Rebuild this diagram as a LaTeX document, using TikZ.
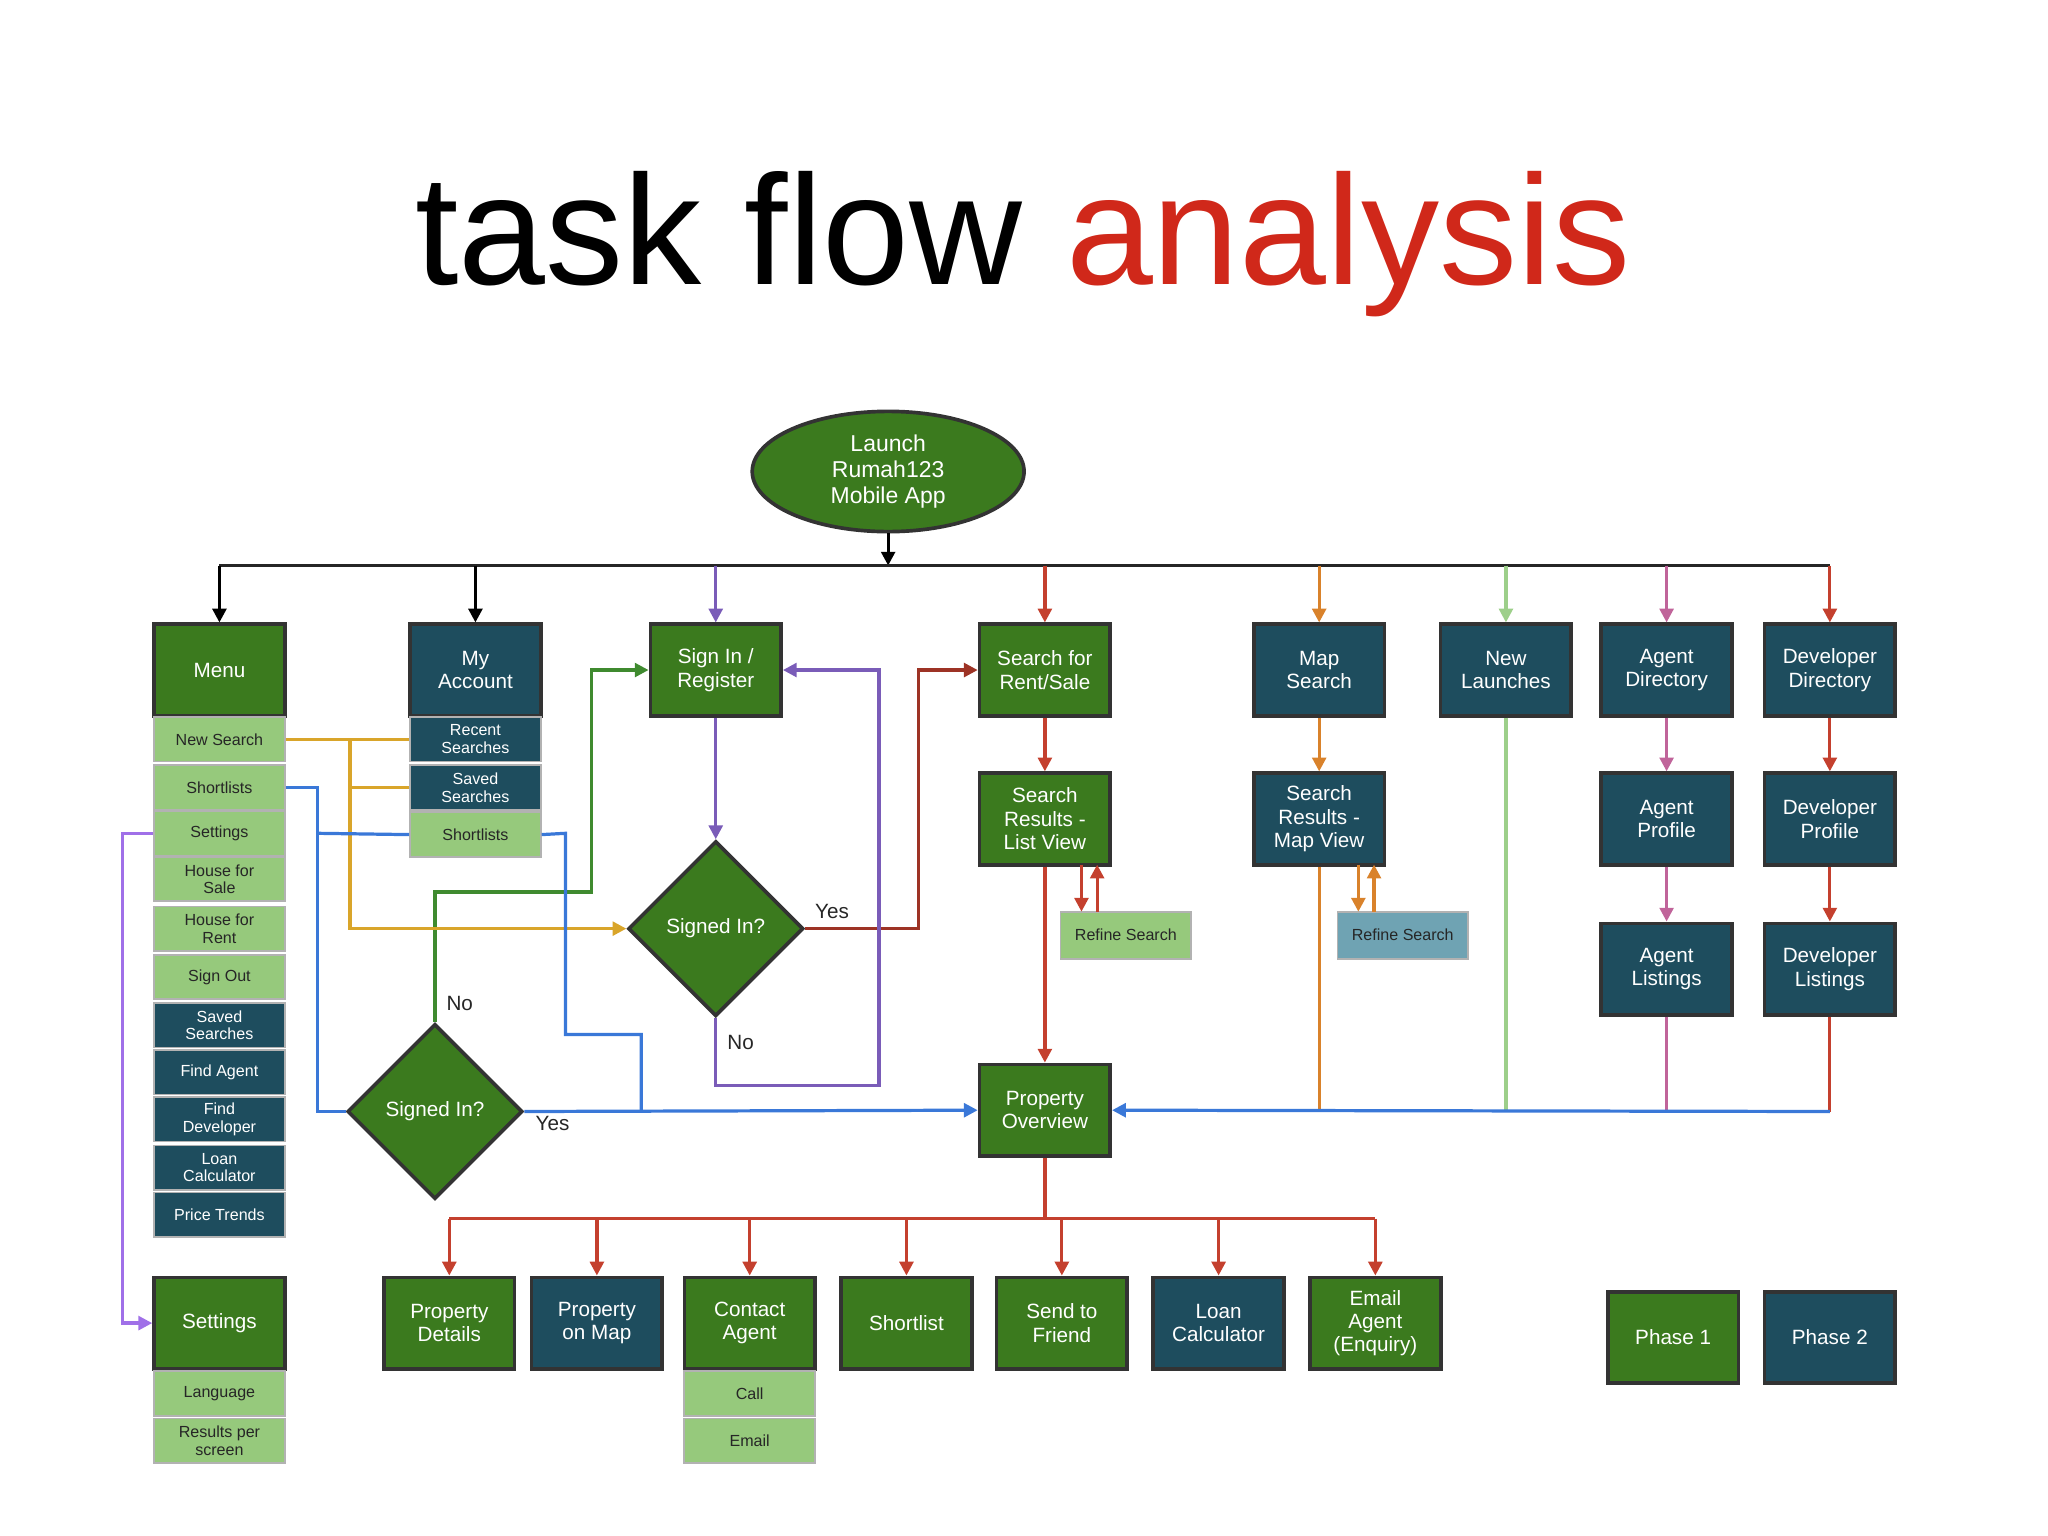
\documentclass[tikz,border=0pt]{standalone}
\usepackage{fontspec}
\setmainfont{Liberation Sans}
\usetikzlibrary{shapes.geometric,arrows.meta}
\definecolor{dg}{HTML}{3B7A1E}
\definecolor{dt}{HTML}{1E4D5E}
\definecolor{lg}{HTML}{96C97C}
\definecolor{lt}{HTML}{6FA3B3}
\definecolor{cpur}{HTML}{7A5CB8}
\definecolor{cred}{HTML}{C4402E}
\definecolor{cor}{HTML}{D9822B}
\definecolor{clg}{HTML}{9DCF8A}
\definecolor{cpk}{HTML}{C0649A}
\definecolor{cgold}{HTML}{D9A52A}
\definecolor{cblue}{HTML}{3A78D8}
\definecolor{cgr}{HTML}{3F8A2F}
\definecolor{cvio}{HTML}{A070E8}
\definecolor{tred}{HTML}{D0281A}
\begin{document}
\begin{tikzpicture}[x=0.01cm,y=-0.01cm,
  box/.style={draw=black!80,line width=0.8pt,minimum width=1cm,minimum height=0.7cm,align=center,text=white,font=\fontsize{4.5}{5.1}\selectfont,inner sep=0pt},
  G/.style={box,fill=dg}, T/.style={box,fill=dt},
  sub/.style={draw=black!30,line width=0.4pt,minimum width=1cm,minimum height=0.34cm,align=center,font=\fontsize{3.5}{3.8}\selectfont,inner sep=0pt},
  SL/.style={sub,fill=lg,text=black!85}, ST/.style={sub,fill=dt,text=white},
  dia/.style={diamond,draw=black!80,line width=0.8pt,fill=dg,text=white,minimum width=1.34cm,minimum height=1.34cm,aspect=1,inner sep=0pt,font=\fontsize{4.5}{5.1}\selectfont},
  ln/.style={line width=0.7pt},
  ar/.style={ln,-{Triangle[length=3pt,width=3pt]}},
  lab/.style={font=\fontsize{4.5}{5.1}\selectfont,text=black!85}]
\useasboundingbox (0,0) rectangle (1568,1176);
\node (title) at (783,187) {\fontsize{34}{38}\selectfont task flow \textcolor{tred}{analysis}};
\node[ellipse,draw=black!80,line width=0.8pt,fill=dg,text=white,minimum width=2.08cm,minimum height=0.92cm,align=center,inner sep=0pt,font=\fontsize{5}{5.6}\selectfont] (launch) at (680,361) {Launch\\Rumah123\\Mobile App};
% top row
\node[G] (menu) at (168,513) {Menu};
\node[T] (acc) at (364,513) {My\\Account};
\node[G] (sign) at (548,513) {Sign In /\\Register};
\node[G] (search) at (800,513) {Search for\\Rent/Sale};
\node[T] (map) at (1010,513) {Map\\Search};
\node[T] (newl) at (1153,513) {New\\Launches};
\node[T] (agdir) at (1276,513) {Agent\\Directory};
\node[T] (devdir) at (1401,513) {Developer\\Directory};
% menu subs
\node[SL] (m1) at (168,566) {New Search};
\node[SL] (m2) at (168,603) {Shortlists};
\node[SL] (m3) at (168,638) {Settings};
\node[SL] (m4) at (168,673) {House for\\Sale};
\node[SL] (m5) at (168,711) {House for\\Rent};
\node[SL] (m6) at (168,748) {Sign Out};
\node[ST] (m7) at (168,785) {Saved\\Searches};
\node[ST] (m8) at (168,821) {Find Agent};
\node[ST] (m9) at (168,857) {Find\\Developer};
\node[ST] (m10) at (168,894) {Loan\\Calculator};
\node[ST] (m11) at (168,930) {Price Trends};
% account subs
\node[ST] (a1) at (364,566) {Recent\\Searches};
\node[ST] (a2) at (364,603) {Saved\\Searches};
\node[SL] (a3) at (364,639) {Shortlists};
% second row
\node[G] (list) at (800,627) {Search\\Results -\\List View};
\node[T] (mapv) at (1010,627) {Search\\Results -\\Map View};
\node[T] (agp) at (1276,627) {Agent\\Profile};
\node[T] (devp) at (1401,627) {Developer\\Profile};
\node[T] (agl) at (1276,742) {Agent\\Listings};
\node[T] (devl) at (1401,742) {Developer\\Listings};
\node[SL,minimum height=0.36cm] (ref1) at (862,716) {Refine Search};
\node[sub,fill=lt,text=black!85,minimum height=0.36cm] (ref2) at (1074,716) {Refine Search};
\node[dia] (d1) at (548,711) {Signed In?};
\node[dia] (d2) at (333,851) {Signed In?};
\node[G] (po) at (800,850) {Property\\Overview};
% bottom row
\node[G] (pd) at (344,1013) {Property\\Details};
\node[T] (pm) at (457,1013) {Property\\on Map};
\node[G] (ca) at (574,1013) {Contact\\Agent};
\node[G] (sl) at (694,1013) {Shortlist};
\node[G] (sf) at (813,1013) {Send to\\Friend};
\node[T] (lc) at (933,1013) {Loan\\Calculator};
\node[G] (ea) at (1053,1013) {Email\\Agent\\(Enquiry)};
\node[SL] (c1) at (574,1067) {Call};
\node[SL] (c2) at (574,1103) {Email};
\node[G] (set) at (168,1013) {Settings};
\node[SL] (s1) at (168,1067) {Language};
\node[SL] (s2) at (168,1103) {Results per\\screen};
\node[G] (ph1) at (1281,1024) {Phase 1};
\node[T] (ph2) at (1401,1024) {Phase 2};
% bus
\coordinate (bL) at (168,433); \coordinate (bR) at (1401,433);
\draw[ar,black] (launch) -- (680,433);
\draw[ln,black!85] (bL) -- (bR);
\draw[ar,black] (bL) -- (menu);
\draw[ar,black] (364,433) -- (acc);
\draw[ar,cpur] (548,433) -- (sign);
\draw[ar,cred] (800,433) -- (search);
\draw[ar,cor] (1010,433) -- (map);
\draw[ar,clg] (1153,433) -- (newl);
\draw[ar,cpk] (1276,433) -- (agdir);
\draw[ar,cred] (1401,433) -- (devdir);
% verticals
\draw[ar,cred] (search) -- (list);
\draw[ar,cred] (list) -- (po);
\draw[ar,cor] (map) -- (mapv);
\draw[ar,cpk] (agdir) -- (agp);
\draw[ar,cpk] (agp) -- (agl);
\draw[ar,cred] (devdir) -- (devp);
\draw[ar,cred] (devp) -- (devl);
\draw[ar,cred] (828,662) -- (828,698);
\draw[ar,cred] (840,698) -- (840,662);
\draw[ar,cor] (1040,662) -- (1040,698);
\draw[ar,cor] (1052,698) -- (1052,662);
% into property overview
\draw[ln,cor] (mapv) -- (1010,851);
\draw[ln,clg] (newl) -- (1153,851);
\draw[ln,cpk] (agl) -- (1276,851);
\draw[ln,cred] (devl) -- (1401,851);
\draw[ar,cblue] (1401,851) -- (po.east);
% sign in / diamonds
\draw[ar,cpur] (sign) -- (d1);
\draw[ar,cred!80!black] (d1.east) -- (703,711) -- (703,513) -- (search.west);
\node[lab] (y1) at (637,698) {Yes};
\draw[ar,cpur] (d1.south) -- (548,831) -- (673,831) -- (673,513) -- (sign.east);
\node[lab] (n1) at (567,798) {No};
\draw[ar,cgr] (d2.north) -- (333,683) -- (453,683) -- (453,513) -- (sign.west);
\node[lab] (n2) at (352,768) {No};
\draw[ar,cblue] (d2.east) -- (po.west);
\node[lab] (y2) at (423,860) {Yes};
% gold
\draw[ln,cgold] (m1.east) -- (a1.west);
\draw[ln,cgold] (a2.west) -- (268,603);
\draw[ar,cgold] (268,566) -- (268,711) -- (d1.west);
% blue
\draw[ln,cblue] (m2.east) -- (243,603) -- (243,851) -- (d2.west);
\draw[ln,cblue] (243,638) -- (a3.west);
\draw[ln,cblue] (a3.east) -- (433,638) -- (433,792) -- (491,792) -- (491,851);
% settings
\draw[ar,cvio] (m3.west) -- (94,638) -- (94,1013) -- (set.west);
% bottom bus
\draw[ln,cred] (po) -- (800,933);
\draw[ln,cred] (344,933) -- (1053,933);
\foreach \n/\x in {pd/344,pm/457,ca/574,sl/694,sf/813,lc/933,ea/1053}
  \draw[ar,cred] (\x,933) -- (\n);
\end{tikzpicture}
\end{document}
